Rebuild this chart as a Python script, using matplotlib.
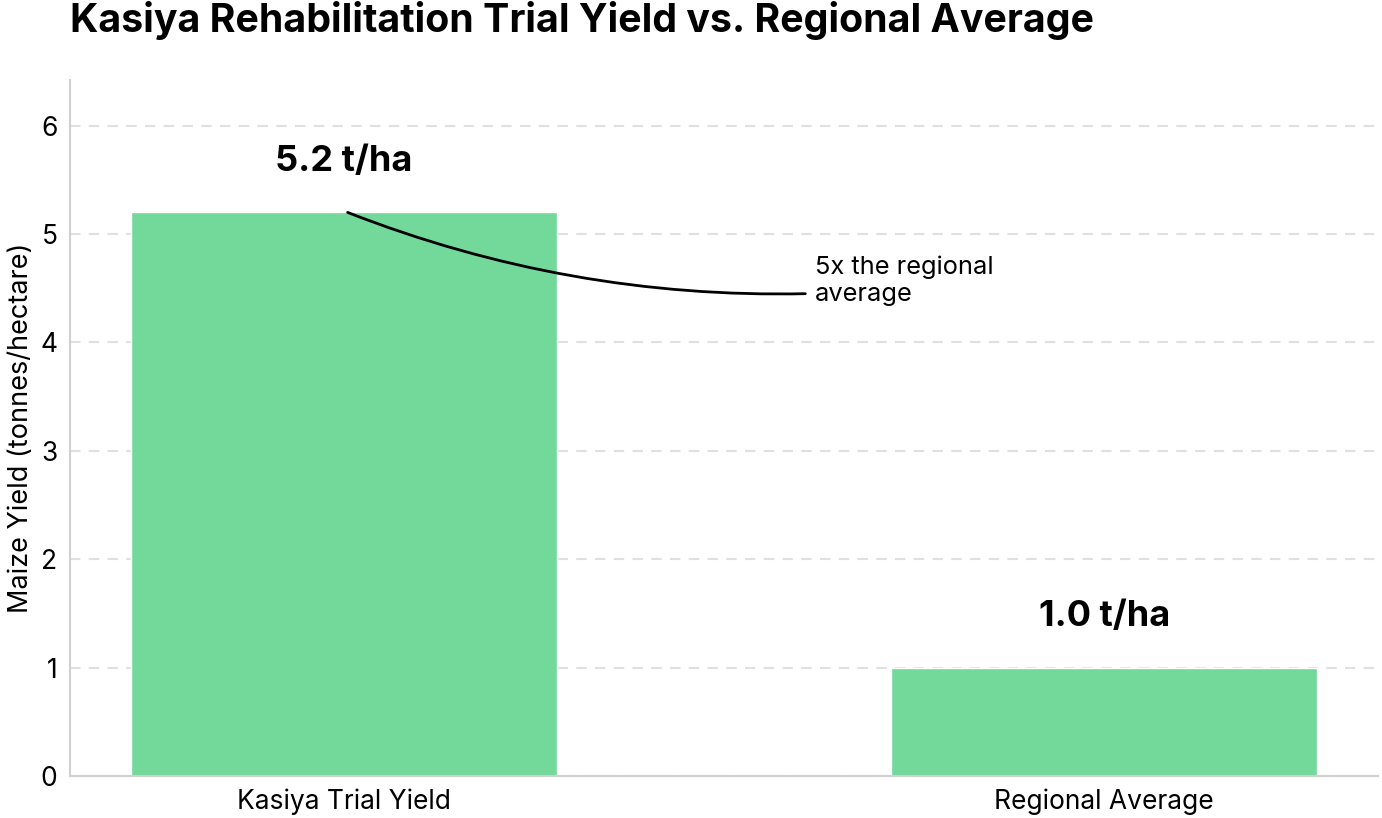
import numpy as np
import matplotlib.pyplot as plt

categories = ["Kasiya Trial Yield", "Regional Average"]
yields = [5.2, 1.0]
value_labels = ["5.2 t/ha", "1.0 t/ha"]
y_ticks = [0, 1, 2, 3, 4, 5, 6]

plt.rcParams['font.family'] = ['Inter', 'DejaVu Sans']

fig = plt.figure(figsize=(13.82, 8.18), dpi=100)
ax = fig.add_axes([0.0507, 0.0513, 0.9463, 0.8507])

x = np.arange(len(categories))
ax.bar(x, yields, width=0.56, color='#72d99a', edgecolor='white', linewidth=1, zorder=2)

for xi, v, lab in zip(x, yields, value_labels):
    ax.text(xi, v + 0.47, lab, ha='center', va='center', fontsize=26, fontweight='bold')

# curved callout from the trial bar to the note
ax.annotate("", xy=(0.005, 5.2), xytext=(0.607, 4.45),
            arrowprops=dict(arrowstyle='-', connectionstyle='arc3,rad=-0.1',
                            lw=2, color='black', shrinkA=0, shrinkB=0))
ax.text(0.62, 4.57, "5x the regional\naverage", ha='left', va='center',
        fontsize=18.3, linespacing=1.18)

ax.set_xlim(-0.36, 1.36)
ax.set_ylim(0, 6.42)
ax.set_yticks(y_ticks)
ax.set_xticks(x)
ax.set_xticklabels(categories)
ax.tick_params(axis='both', length=0, labelsize=19, pad=9)
ax.set_ylabel("Maize Yield (tonnes/hectare)", fontsize=19.5, labelpad=5)

ax.yaxis.grid(True, linestyle=(0, (5, 4)), color='#e0e0e0', linewidth=1.5, zorder=0)
ax.set_axisbelow(True)
for s in ['top', 'right']:
    ax.spines[s].set_visible(False)
for s in ['left', 'bottom']:
    ax.spines[s].set_color('#d0d0d0')
    ax.spines[s].set_linewidth(1.5)

fig.text(0.0507, 0.975, "Kasiya Rehabilitation Trial Yield vs. Regional Average",
         ha='left', va='center', fontsize=28.3, fontweight='bold')

fig.savefig("out.png", dpi=100)
